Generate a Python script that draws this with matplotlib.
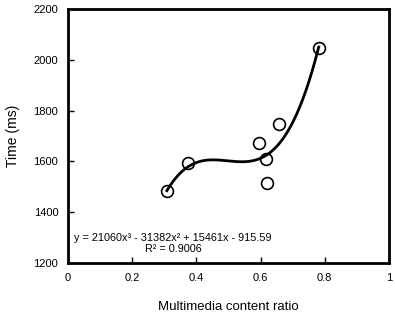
import matplotlib
matplotlib.use("Agg")
import matplotlib.pyplot as plt
import numpy as np

plt.rcParams["font.family"] = ["Liberation Sans", "DejaVu Sans"]

ratio = [0.308, 0.374, 0.595, 0.617, 0.620, 0.658, 0.781]
time_ms = [1483, 1594, 1672, 1609, 1516, 1748, 2045]
coef = [21060, -31382, 15461, -915.59]
r2 = 0.9006

fig = plt.figure(figsize=(3.95, 3.15), dpi=100)
ax = fig.add_axes([68 / 395, 52 / 315, 321 / 395, 254 / 315])

xs = np.linspace(min(ratio), max(ratio), 200)
ax.plot(xs, np.polyval(coef, xs), color="black", lw=2, zorder=2)
ax.plot(ratio, time_ms, "o", mfc="none", mec="black", ms=8.5, mew=1.2, zorder=3)

ax.text(0.327, 1276, "y = 21060x³ - 31382x² + 15461x - 915.59\nR² = 0.9006",
        ha="center", va="center", fontsize=7.8, linespacing=1.15)

ax.set_xlim(0, 1)
ax.set_ylim(1200, 2200)
ax.set_xticks([0, 0.2, 0.4, 0.6, 0.8, 1])
ax.set_xticklabels(["0", "0.2", "0.4", "0.6", "0.8", "1"])
ax.set_yticks(range(1200, 2201, 200))
ax.tick_params(direction="in", length=4, width=1, labelsize=8, pad=7)
for s in ax.spines.values():
    s.set_linewidth(2)

ax.set_xlabel("Multimedia content ratio", fontsize=9.5, labelpad=13)
ax.set_ylabel("Time (ms)", fontsize=10, labelpad=10)

fig.savefig("out.png", dpi=100)
